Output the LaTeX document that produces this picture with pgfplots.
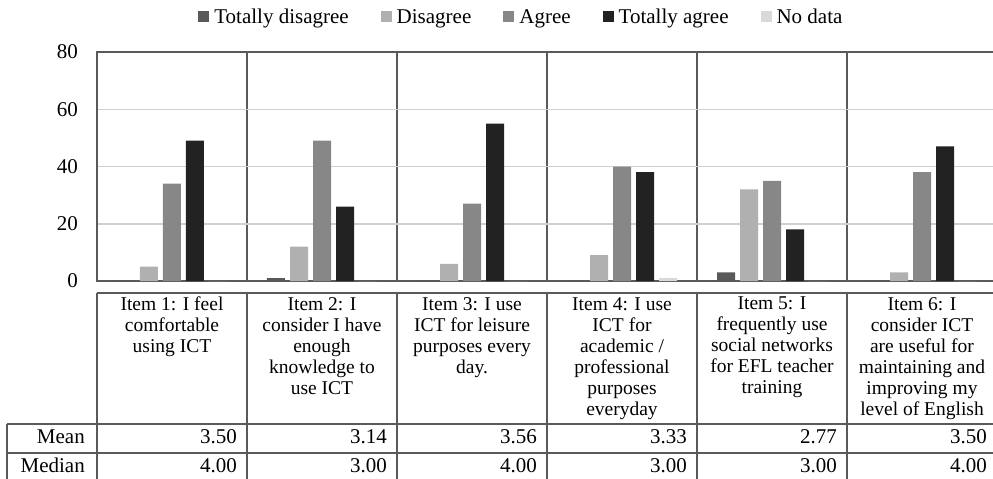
\documentclass[border=0pt]{standalone}
\usepackage{pgfplots}
\pgfplotsset{compat=1.18}
\usepackage{fontspec}
\setmainfont{Liberation Serif}

\definecolor{cTD}{HTML}{595959}
\definecolor{cD}{HTML}{B0B0B0}
\definecolor{cA}{HTML}{878787}
\definecolor{cTA}{HTML}{222222}
\definecolor{cND}{HTML}{D9D9D9}
\definecolor{cLine}{HTML}{5A5A5A}
\definecolor{cGrid}{HTML}{D0D0D0}

\newcommand{\bigf}{\fontsize{21bp}{24bp}\selectfont}
\newcommand{\labf}{\fontsize{19.5bp}{21bp}\selectfont}

\begin{document}
\begin{tikzpicture}
\begin{axis}[
    scale only axis,
    width=900bp, height=229bp,
    ybar=5bp, bar width=18bp,
    xmin=-0.5, xmax=5.5, ymin=0, ymax=80,
    ytick={0,20,40,60,80},
    xtick={0,1,2,3,4,5},
    xticklabels={
      {Item 1: I feel\\comfortable\\using ICT},
      {Item 2: I\\consider I have\\enough\\knowledge to\\use ICT},
      {Item 3: I use\\ICT for leisure\\purposes every\\day.},
      {Item 4: I use\\ICT for\\academic /\\professional\\purposes\\everyday},
      {Item 5: I\\frequently use\\social networks\\for EFL teacher\\training},
      {Item 6: I\\consider ICT\\are useful for\\maintaining and\\improving my\\level of English}},
    minor xtick={0.5,1.5,2.5,3.5,4.5},
    xminorgrids,
    minor x grid style={cLine, line width=1.2bp},
    ymajorgrids,
    major y grid style={cGrid, line width=1.5bp},
    major tick length=0pt, minor tick length=0pt,
    axis line style={cLine, line width=1.2bp},
    clip=false,
    /pgf/number format/assume math mode=true,
    yticklabel style={font=\bigf, inner sep=0pt, anchor=east, xshift=-19bp},
    xticklabel style={font=\labf, inner sep=0pt, anchor=north, yshift=-16bp, align=center},
    legend columns=5,
    legend style={at={(axis description cs:0.471,1.153)}, anchor=center,
      draw=none, font=\bigf, nodes={inner xsep=1bp},
      /tikz/every even column/.append style={column sep=31bp}},
    legend image code/.code={\fill[#1] (0bp,-5.5bp) rectangle (11bp,5.5bp); \path (15bp,0bp);},
  ]
  \addplot[fill=cTD, draw=none] coordinates {(0,0) (1,1) (2,0) (3,0) (4,3) (5,0)};
  \addplot[fill=cD, draw=none] coordinates {(0,5) (1,12) (2,6) (3,9) (4,32) (5,3)};
  \addplot[fill=cA, draw=none] coordinates {(0,34) (1,49) (2,27) (3,40) (4,35) (5,38)};
  \addplot[fill=cTA, draw=none] coordinates {(0,49) (1,26) (2,55) (3,38) (4,18) (5,47)};
  \addplot[fill=cND, draw=none] coordinates {(0,0) (1,0) (2,0) (3,1) (4,0) (5,0)};
  \legend{Totally disagree, Disagree, Agree, Totally agree, No data}

  % data table under the chart
  \begin{scope}[cLine, line width=1.3bp]
    \draw ([yshift=-12bp]axis cs:-0.5,0) -- ([yshift=-12bp]axis cs:5.5,0);
    \draw ([xshift=-90bp,yshift=-143bp]axis cs:-0.5,0) -- ([yshift=-143bp]axis cs:5.5,0);
    \draw ([xshift=-90bp,yshift=-172bp]axis cs:-0.5,0) -- ([yshift=-172bp]axis cs:5.5,0);
    \draw ([xshift=-90bp,yshift=-143bp]axis cs:-0.5,0) -- ([xshift=-90bp,yshift=-210bp]axis cs:-0.5,0);
    \draw ([yshift=-12bp]axis cs:-0.5,0) -- ([yshift=-210bp]axis cs:-0.5,0);
    \draw ([yshift=-12bp]axis cs:0.5,0) -- ([yshift=-210bp]axis cs:0.5,0);
    \draw ([yshift=-12bp]axis cs:1.5,0) -- ([yshift=-210bp]axis cs:1.5,0);
    \draw ([yshift=-12bp]axis cs:2.5,0) -- ([yshift=-210bp]axis cs:2.5,0);
    \draw ([yshift=-12bp]axis cs:3.5,0) -- ([yshift=-210bp]axis cs:3.5,0);
    \draw ([yshift=-12bp]axis cs:4.5,0) -- ([yshift=-210bp]axis cs:4.5,0);
    \draw ([yshift=-12bp]axis cs:5.5,0) -- ([yshift=-210bp]axis cs:5.5,0);
  \end{scope}
  \begin{scope}[every node/.style={font=\bigf, inner sep=0pt, anchor=base east}]
    \node at ([xshift=-12bp,yshift=-162bp]axis cs:-0.5,0) {Mean};
    \node at ([xshift=-12bp,yshift=-191bp]axis cs:-0.5,0) {Median};
    \node at ([xshift=-10bp,yshift=-162bp]axis cs:0.5,0) {3.50};
    \node at ([xshift=-10bp,yshift=-162bp]axis cs:1.5,0) {3.14};
    \node at ([xshift=-10bp,yshift=-162bp]axis cs:2.5,0) {3.56};
    \node at ([xshift=-10bp,yshift=-162bp]axis cs:3.5,0) {3.33};
    \node at ([xshift=-10bp,yshift=-162bp]axis cs:4.5,0) {2.77};
    \node at ([xshift=-10bp,yshift=-162bp]axis cs:5.5,0) {3.50};
    \node at ([xshift=-10bp,yshift=-191bp]axis cs:0.5,0) {4.00};
    \node at ([xshift=-10bp,yshift=-191bp]axis cs:1.5,0) {3.00};
    \node at ([xshift=-10bp,yshift=-191bp]axis cs:2.5,0) {4.00};
    \node at ([xshift=-10bp,yshift=-191bp]axis cs:3.5,0) {3.00};
    \node at ([xshift=-10bp,yshift=-191bp]axis cs:4.5,0) {3.00};
    \node at ([xshift=-10bp,yshift=-191bp]axis cs:5.5,0) {4.00};
  \end{scope}
\end{axis}
\pgfresetboundingbox
\path[use as bounding box] (-97bp,-198bp) rectangle (896bp,281bp);
\end{tikzpicture}
\end{document}
